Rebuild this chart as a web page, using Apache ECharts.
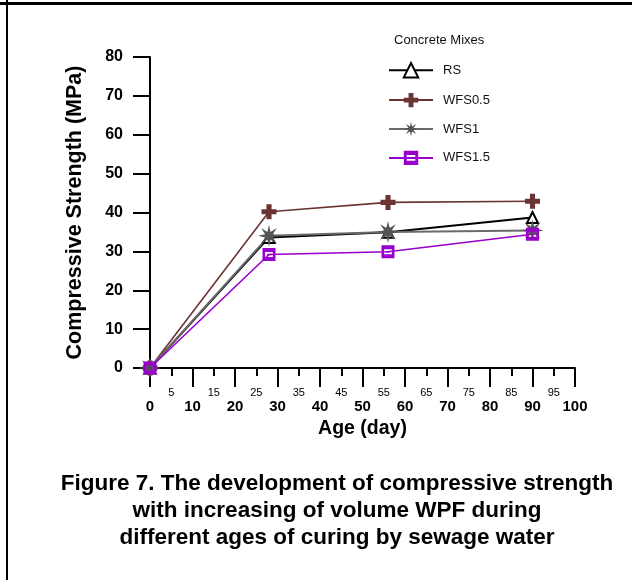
<!DOCTYPE html>
<html>
<head>
<meta charset="utf-8">
<script src="https://cdn.jsdelivr.net/npm/echarts@6/dist/echarts.min.js"></script>
<style>
  html, body { margin: 0; padding: 0; background: #fff; }
  #chart { width: 632px; height: 580px; }
</style>
</head>
<body>
<div id="chart"></div>
<script>
// age of curing (days)
var ages = [0, 28, 56, 90];
var mixNames = ["RS", "WFS0.5", "WFS1", "WFS1.5"];
var rs = [0, 33.6, 34.9, 38.7];
var wfs05 = [0, 40.2, 42.6, 42.9];
var wfs1 = [0, 34.0, 35.0, 35.4];
var wfs15 = [0, 29.2, 29.9, 34.4];
var yTicks = [0, 10, 20, 30, 40, 50, 60, 70, 80];
var xMajorTicks = [0, 10, 20, 30, 40, 50, 60, 70, 80, 90, 100];

var FONT = "Liberation Sans, Arial, sans-serif";

function pairs(vals) {
  return ages.map(function(a, i) { return [a, vals[i]]; });
}

// 8 spiked asterisk for WFS1
function starPath() {
  var pts = [];
  for (var k = 0; k < 16; k++) {
    var r = k % 2 === 0 ? 10 : 3.8;
    var ang = (k * 22.5 - 90) * Math.PI / 180;
    pts.push((10 + r * Math.cos(ang)).toFixed(2) + "," + (10 + r * Math.sin(ang)).toFixed(2));
  }
  return "path://M" + pts.join("L") + "Z";
}
var plusPath = "path://M3.3,0H6.7V3.3H10V6.7H6.7V10H3.3V6.7H0V3.3H3.3Z";
var boxPath = "path://M0,0H10V10H0Z M2,3V7H8V3Z M3.6,4.4H6.4V5.6H3.6Z";

var chart = echarts.init(document.getElementById("chart"));

var option = {
  backgroundColor: "#fff",
  animation: false,
  textStyle: { fontFamily: FONT },
  title: {
    text: "Concrete Mixes",
    left: 389,
    top: 29,
    textStyle: { fontFamily: FONT, fontSize: 13, fontWeight: "normal", color: "#111" },
  },
  legend: {
    orient: "vertical",
    left: 383,
    top: 57,
    itemWidth: 44,
    itemHeight: 18,
    itemGap: 14.5,
    data: mixNames,
    textStyle: { fontFamily: FONT, fontSize: 13, color: "#111", padding: [0, 0, 0, 5] },
  },
  grid: { left: 150, top: 57, right: 57, bottom: 212 },
  xAxis: [
    {
      type: "value",
      min: 0,
      max: 100,
      interval: 10,
      splitLine: { show: false },
      axisLine: { lineStyle: { color: "#000", width: 2 } },
      axisTick: { length: 19, lineStyle: { color: "#000", width: 2 } },
      axisLabel: {
        margin: 31,
        color: "#000",
        fontFamily: FONT,
        fontSize: 15,
        fontWeight: "bold",
        formatter: function(v) { return xMajorTicks.indexOf(v) >= 0 ? String(v) : ""; },
      },
      name: "Age (day)",
      nameLocation: "middle",
      nameGap: 51,
      nameTextStyle: { fontFamily: FONT, fontSize: 19.5, fontWeight: "bold", color: "#000" },
    },
    {
      type: "value",
      min: 0,
      max: 100,
      interval: 5,
      position: "bottom",
      splitLine: { show: false },
      axisLine: { show: false },
      axisTick: { length: 8, lineStyle: { color: "#000", width: 2 } },
      axisLabel: {
        margin: 19,
        color: "#000",
        fontFamily: FONT,
        fontSize: 11,
        formatter: function(v) { return v % 10 === 5 ? String(v) : ""; },
      },
    },
  ],
  yAxis: {
    type: "value",
    min: 0,
    max: 80,
    interval: 10,
    splitLine: { show: false },
    axisLine: { show: true, lineStyle: { color: "#000", width: 2 } },
    axisTick: { show: true, length: 17, lineStyle: { color: "#000", width: 2 } },
    axisLabel: {
      margin: 27,
      color: "#000",
      fontFamily: FONT,
      fontSize: 16,
      fontWeight: "bold",
      formatter: function(v) { return yTicks.indexOf(v) >= 0 ? String(v) : ""; },
    },
    name: "Compressive Strength (MPa)",
    nameLocation: "middle",
    nameGap: 64,
    nameTextStyle: { fontFamily: FONT, fontSize: 21.5, fontWeight: "bold", color: "#000" },
  },
  series: [
    {
      name: "RS",
      type: "line",
      data: pairs(rs),
      symbol: "triangle",
      symbolSize: 11,
      lineStyle: { color: "#000", width: 2 },
      itemStyle: { color: "#fff", borderColor: "#000", borderWidth: 2 },
    },
    {
      name: "WFS0.5",
      type: "line",
      data: pairs(wfs05),
      symbol: plusPath,
      symbolSize: 15,
      lineStyle: { color: "#6b3434", width: 1.6 },
      itemStyle: { color: "#6b3434" },
    },
    {
      name: "WFS1",
      type: "line",
      data: pairs(wfs1),
      symbol: starPath(),
      symbolSize: 22,
      lineStyle: { color: "#6a6a6a", width: 2 },
      itemStyle: { color: "#555" },
    },
    {
      name: "WFS1.5",
      type: "line",
      data: pairs(wfs15),
      symbol: boxPath,
      symbolSize: 13,
      lineStyle: { color: "#9900cc", width: 1.6 },
      itemStyle: { color: "#9900cc" },
    },
  ],
  graphic: [
    { type: "rect", left: 0, top: 2, shape: { width: 632, height: 3 }, style: { fill: "#000" } },
    { type: "rect", left: 6, top: 0, shape: { width: 2, height: 580 }, style: { fill: "#000" } },
    {
      type: "text",
      x: 337,
      y: 470,
      style: {
        text: "Figure 7. The development of compressive strength\nwith increasing of volume WPF during\ndifferent ages of curing by sewage water",
        textAlign: "center",
        font: "bold 22.5px " + FONT,
        lineHeight: 27,
        fill: "#000",
      },
    },
  ],
};

chart.setOption(option);
</script>
</body>
</html>
